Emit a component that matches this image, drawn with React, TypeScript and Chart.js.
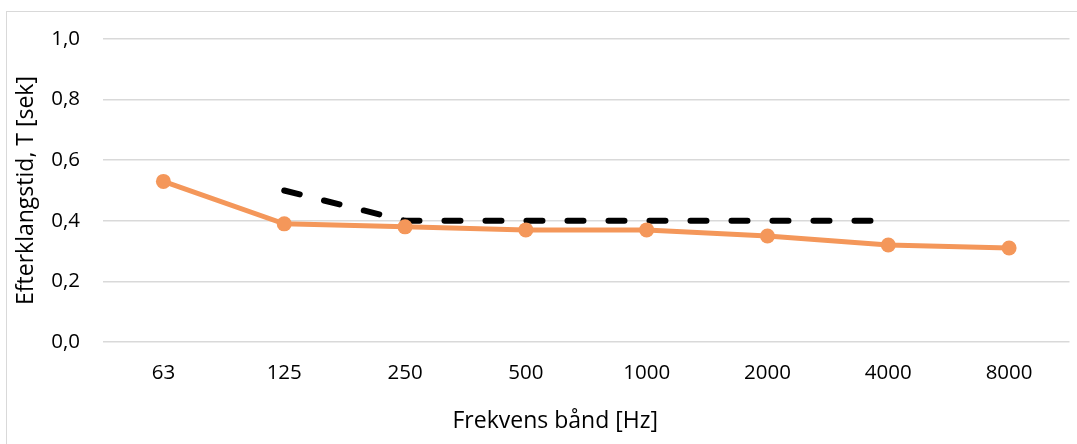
import React, { useEffect, useRef } from "react";
import { Chart, registerables } from "chart.js";

Chart.register(...registerables);

const categories = ["63", "125", "250", "500", "1000", "2000", "4000", "8000"];
const measured = [0.53, 0.39, 0.38, 0.37, 0.37, 0.35, 0.32, 0.31];
const requirement = [null, 0.5, 0.4, 0.4, 0.4, 0.4, 0.4, null];
const yTitle = "Efterklangstid, T [sek]";
const xTitle = "Frekvens bånd [Hz]";

const FONT = "'Open Sans', 'Noto Sans', sans-serif";

// Draws the x-axis title slightly left of the plot centre, as in the reference
const xTitlePlugin = {
  id: "xTitlePlugin",
  afterDraw(chart: any) {
    const { ctx, chartArea } = chart;
    ctx.save();
    ctx.font = `23px ${FONT}`;
    ctx.fillStyle = "#000000";
    ctx.textAlign = "center";
    ctx.textBaseline = "middle";
    const cx = (chartArea.left + chartArea.right) / 2 - 31;
    ctx.fillText(xTitle, cx, chartArea.bottom + 79);
    ctx.restore();
  },
};

export default function App() {
  const ref = useRef<HTMLCanvasElement | null>(null);

  useEffect(() => {
    if (!ref.current) return;
    const chart = new Chart(ref.current, {
      type: "line",
      data: {
        labels: categories,
        datasets: [
          {
            label: "Målt",
            data: measured,
            borderColor: "rgb(244,151,90)",
            backgroundColor: "rgb(244,151,90)",
            borderWidth: 5,
            pointRadius: 7.5,
            pointHoverRadius: 7.5,
            pointBorderWidth: 0,
            tension: 0,
            order: 0,
          },
          {
            label: "Krav",
            data: requirement,
            borderColor: "#000000",
            backgroundColor: "#000000",
            borderWidth: 6,
            borderDash: [16, 25],
            borderCapStyle: "round",
            pointRadius: 0,
            tension: 0,
            spanGaps: false,
            order: 1,
          },
        ],
      },
      options: {
        responsive: false,
        animation: false,
        layout: { padding: { left: 10, top: 39, right: 7, bottom: 10 } },
        plugins: {
          legend: { display: false },
          tooltip: { enabled: false },
        },
        scales: {
          x: {
            offset: true,
            grid: { display: false, drawTicks: false },
            border: { display: false },
            ticks: {
              color: "#000000",
              font: { family: FONT, size: 20.5 },
              padding: 19,
              maxRotation: 0,
            },
            title: { display: false },
            afterFit: (s: any) => {
              s.height = 92;
            },
          },
          y: {
            min: 0,
            max: 1,
            grid: { color: "#d9d9d9", lineWidth: 1.5, drawTicks: false },
            border: { display: false },
            ticks: {
              stepSize: 0.2,
              color: "#000000",
              font: { family: FONT, size: 20.5 },
              padding: 23,
              callback: (v: any) => Number(v).toFixed(1).replace(".", ","),
            },
            title: {
              display: true,
              text: yTitle,
              color: "#000000",
              font: { family: FONT, size: 23 },
              padding: { top: 3, bottom: 0 },
            },
            afterFit: (s: any) => {
              s.width = 93;
            },
          },
        },
      },
      plugins: [xTitlePlugin],
    });
    return () => chart.destroy();
  }, []);

  return (
    <div style={{ position: "absolute", left: 0, top: 0, width: 1077, height: 444, background: "#ffffff", overflow: "hidden" }}>
      <div
        style={{
          position: "absolute",
          left: 6,
          top: 11,
          width: 1090,
          height: 450,
          border: "1.5px solid #d9d9d9",
          boxSizing: "border-box",
        }}
      />
      <canvas ref={ref} width={1077} height={444} style={{ position: "absolute", left: 0, top: 0 }} />
    </div>
  );
}
